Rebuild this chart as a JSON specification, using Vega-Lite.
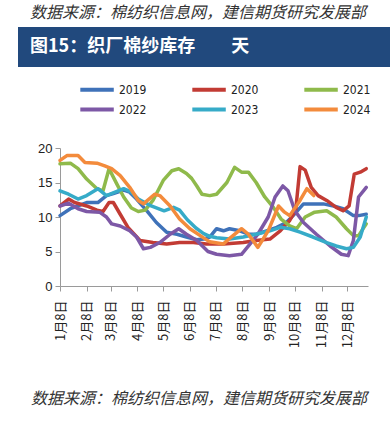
{
  "$schema": "https://vega.github.io/schema/vega-lite/v6.json",
  "background": "white",
  "padding": {"left": 18, "top": 5, "right": 0, "bottom": 6},
  "title": {"text": "数据来源：棉纺织信息网，建信期货研究发展部", "anchor": "start", "dx": 12, "fontSize": 16, "fontStyle": "italic", "fontWeight": "normal", "font": "Noto Sans CJK SC", "color": "#333333", "offset": 6},
  "spacing": 16,
  "resolve": {"legend": {"color": "independent"}},
  "config": {"view": {"stroke": null}},
  "vconcat": [
    {
      "width": 372,
      "height": 40,
      "view": {"fill": "#21497d", "stroke": null},
      "data": {"values": [{"t": "图15：织厂棉纱库存\u3000\u3000天"}]},
      "mark": {"type": "text", "align": "left", "baseline": "middle", "dx": 12, "color": "white", "fontSize": 18, "fontWeight": "bold", "font": "Noto Sans CJK SC"},
      "encoding": {
        "text": {"field": "t"},
        "x": {"datum": 0, "type": "quantitative", "scale": {"domain": [0, 1]}, "axis": null}
      }
    },
    {
      "spacing": 0,
      "resolve": {"legend": {"color": "independent"}},
      "hconcat": [
        {"width": 1, "height": 1, "data": {"values": []}, "mark": "point"},
        {
          "width": 308,
          "height": 138,
          "title": {"text": "数据来源：棉纺织信息网，建信期货研究发展部", "orient": "bottom", "anchor": "start", "frame": "bounds", "dx": 12, "offset": 43, "fontSize": 16, "fontStyle": "italic", "fontWeight": "normal", "font": "Noto Sans CJK SC", "color": "#333333"},
          "data": {"values": [
            {"d":"2019-01-08","y":"2019","v":10.2},{"d":"2019-01-20","y":"2019","v":11.2},{"d":"2019-01-29","y":"2019","v":11.6},{"d":"2019-02-08","y":"2019","v":12.1},{"d":"2019-02-21","y":"2019","v":12.1},{"d":"2019-03-03","y":"2019","v":13.1},{"d":"2019-03-11","y":"2019","v":13.4},{"d":"2019-03-23","y":"2019","v":13.9},{"d":"2019-03-30","y":"2019","v":13.6},{"d":"2019-04-07","y":"2019","v":12.6},{"d":"2019-04-19","y":"2019","v":10.9},{"d":"2019-04-30","y":"2019","v":9.2},{"d":"2019-05-12","y":"2019","v":7.8},{"d":"2019-05-24","y":"2019","v":7.5},{"d":"2019-06-04","y":"2019","v":7.1},{"d":"2019-06-16","y":"2019","v":6.7},{"d":"2019-06-24","y":"2019","v":6.8},{"d":"2019-07-01","y":"2019","v":7.1},{"d":"2019-07-09","y":"2019","v":8.3},{"d":"2019-07-17","y":"2019","v":8.0},{"d":"2019-07-24","y":"2019","v":8.3},{"d":"2019-08-05","y":"2019","v":8.0},{"d":"2019-08-15","y":"2019","v":7.5},{"d":"2019-08-24","y":"2019","v":7.5},{"d":"2019-09-05","y":"2019","v":8.0},{"d":"2019-09-17","y":"2019","v":8.5},{"d":"2019-09-28","y":"2019","v":9.2},{"d":"2019-10-06","y":"2019","v":10.2},{"d":"2019-10-18","y":"2019","v":11.9},{"d":"2019-10-29","y":"2019","v":11.9},{"d":"2019-11-10","y":"2019","v":11.9},{"d":"2019-11-22","y":"2019","v":11.6},{"d":"2019-12-03","y":"2019","v":11.2},{"d":"2019-12-15","y":"2019","v":10.2},{"d":"2019-12-21","y":"2019","v":10.2},{"d":"2019-12-30","y":"2019","v":10.4},
            {"d":"2019-01-08","y":"2020","v":11.6},{"d":"2019-01-18","y":"2020","v":12.6},{"d":"2019-01-25","y":"2020","v":12.1},{"d":"2019-02-08","y":"2020","v":11.6},{"d":"2019-02-20","y":"2020","v":11.0},{"d":"2019-02-27","y":"2020","v":10.8},{"d":"2019-03-06","y":"2020","v":12.1},{"d":"2019-03-11","y":"2020","v":12.1},{"d":"2019-03-19","y":"2020","v":10.4},{"d":"2019-03-28","y":"2020","v":8.5},{"d":"2019-04-11","y":"2020","v":6.6},{"d":"2019-04-26","y":"2020","v":6.3},{"d":"2019-05-12","y":"2020","v":6.1},{"d":"2019-05-27","y":"2020","v":6.3},{"d":"2019-06-12","y":"2020","v":6.3},{"d":"2019-06-27","y":"2020","v":6.1},{"d":"2019-07-17","y":"2020","v":6.1},{"d":"2019-08-09","y":"2020","v":6.3},{"d":"2019-08-24","y":"2020","v":6.6},{"d":"2019-09-09","y":"2020","v":6.8},{"d":"2019-09-21","y":"2020","v":8.0},{"d":"2019-10-02","y":"2020","v":9.5},{"d":"2019-10-09","y":"2020","v":11.0},{"d":"2019-10-14","y":"2020","v":17.3},{"d":"2019-10-20","y":"2020","v":16.8},{"d":"2019-10-27","y":"2020","v":14.3},{"d":"2019-11-04","y":"2020","v":13.1},{"d":"2019-11-14","y":"2020","v":12.4},{"d":"2019-11-25","y":"2020","v":11.4},{"d":"2019-12-03","y":"2020","v":10.9},{"d":"2019-12-10","y":"2020","v":11.6},{"d":"2019-12-16","y":"2020","v":16.2},{"d":"2019-12-23","y":"2020","v":16.5},{"d":"2019-12-30","y":"2020","v":17.0},
            {"d":"2019-01-08","y":"2021","v":17.7},{"d":"2019-01-20","y":"2021","v":17.8},{"d":"2019-01-29","y":"2021","v":17.0},{"d":"2019-02-08","y":"2021","v":15.5},{"d":"2019-02-20","y":"2021","v":14.1},{"d":"2019-02-27","y":"2021","v":13.8},{"d":"2019-03-06","y":"2021","v":17.0},{"d":"2019-03-15","y":"2021","v":14.8},{"d":"2019-03-23","y":"2021","v":12.9},{"d":"2019-04-01","y":"2021","v":11.3},{"d":"2019-04-09","y":"2021","v":10.8},{"d":"2019-04-17","y":"2021","v":11.0},{"d":"2019-04-26","y":"2021","v":12.4},{"d":"2019-05-08","y":"2021","v":15.3},{"d":"2019-05-18","y":"2021","v":16.7},{"d":"2019-05-26","y":"2021","v":17.0},{"d":"2019-06-04","y":"2021","v":16.3},{"d":"2019-06-10","y":"2021","v":15.6},{"d":"2019-06-16","y":"2021","v":14.5},{"d":"2019-06-22","y":"2021","v":13.3},{"d":"2019-07-01","y":"2021","v":13.1},{"d":"2019-07-09","y":"2021","v":13.3},{"d":"2019-07-21","y":"2021","v":15.0},{"d":"2019-07-30","y":"2021","v":17.2},{"d":"2019-08-07","y":"2021","v":16.5},{"d":"2019-08-15","y":"2021","v":16.5},{"d":"2019-08-24","y":"2021","v":15.0},{"d":"2019-09-03","y":"2021","v":12.9},{"d":"2019-09-13","y":"2021","v":11.4},{"d":"2019-09-22","y":"2021","v":9.7},{"d":"2019-10-02","y":"2021","v":8.7},{"d":"2019-10-10","y":"2021","v":8.3},{"d":"2019-10-20","y":"2021","v":10.0},{"d":"2019-10-31","y":"2021","v":10.7},{"d":"2019-11-14","y":"2021","v":10.9},{"d":"2019-11-25","y":"2021","v":10.0},{"d":"2019-12-07","y":"2021","v":8.3},{"d":"2019-12-15","y":"2021","v":7.3},{"d":"2019-12-21","y":"2021","v":7.3},{"d":"2019-12-30","y":"2021","v":9.0},
            {"d":"2019-01-08","y":"2022","v":11.6},{"d":"2019-01-18","y":"2022","v":12.0},{"d":"2019-01-29","y":"2022","v":11.2},{"d":"2019-02-08","y":"2022","v":10.8},{"d":"2019-02-23","y":"2022","v":10.7},{"d":"2019-03-03","y":"2022","v":10.0},{"d":"2019-03-09","y":"2022","v":9.0},{"d":"2019-03-19","y":"2022","v":8.7},{"d":"2019-03-30","y":"2022","v":8.0},{"d":"2019-04-07","y":"2022","v":7.1},{"d":"2019-04-15","y":"2022","v":5.4},{"d":"2019-04-23","y":"2022","v":5.6},{"d":"2019-05-04","y":"2022","v":6.3},{"d":"2019-05-16","y":"2022","v":7.5},{"d":"2019-05-26","y":"2022","v":8.3},{"d":"2019-06-04","y":"2022","v":7.5},{"d":"2019-06-16","y":"2022","v":6.6},{"d":"2019-06-29","y":"2022","v":5.0},{"d":"2019-07-09","y":"2022","v":4.6},{"d":"2019-07-24","y":"2022","v":4.4},{"d":"2019-08-07","y":"2022","v":4.6},{"d":"2019-08-17","y":"2022","v":6.1},{"d":"2019-08-26","y":"2022","v":7.5},{"d":"2019-09-07","y":"2022","v":10.0},{"d":"2019-09-15","y":"2022","v":12.9},{"d":"2019-09-24","y":"2022","v":14.5},{"d":"2019-09-30","y":"2022","v":13.8},{"d":"2019-10-08","y":"2022","v":10.9},{"d":"2019-10-18","y":"2022","v":9.2},{"d":"2019-11-02","y":"2022","v":7.5},{"d":"2019-11-18","y":"2022","v":5.8},{"d":"2019-12-01","y":"2022","v":4.6},{"d":"2019-12-09","y":"2022","v":4.4},{"d":"2019-12-15","y":"2022","v":6.6},{"d":"2019-12-21","y":"2022","v":12.9},{"d":"2019-12-30","y":"2022","v":14.3},
            {"d":"2019-01-08","y":"2023","v":13.8},{"d":"2019-01-18","y":"2023","v":13.3},{"d":"2019-01-29","y":"2023","v":12.6},{"d":"2019-02-08","y":"2023","v":13.1},{"d":"2019-02-21","y":"2023","v":14.1},{"d":"2019-03-03","y":"2023","v":13.1},{"d":"2019-03-13","y":"2023","v":13.6},{"d":"2019-03-23","y":"2023","v":14.1},{"d":"2019-04-01","y":"2023","v":13.6},{"d":"2019-04-09","y":"2023","v":12.6},{"d":"2019-04-24","y":"2023","v":11.6},{"d":"2019-05-09","y":"2023","v":10.9},{"d":"2019-05-20","y":"2023","v":11.4},{"d":"2019-05-27","y":"2023","v":11.0},{"d":"2019-06-05","y":"2023","v":9.6},{"d":"2019-06-15","y":"2023","v":8.4},{"d":"2019-06-24","y":"2023","v":7.6},{"d":"2019-07-01","y":"2023","v":7.2},{"d":"2019-07-09","y":"2023","v":7.0},{"d":"2019-07-24","y":"2023","v":6.8},{"d":"2019-08-09","y":"2023","v":7.1},{"d":"2019-08-24","y":"2023","v":7.5},{"d":"2019-09-09","y":"2023","v":8.0},{"d":"2019-09-21","y":"2023","v":8.5},{"d":"2019-10-02","y":"2023","v":8.3},{"d":"2019-10-14","y":"2023","v":7.8},{"d":"2019-10-29","y":"2023","v":7.1},{"d":"2019-11-14","y":"2023","v":6.3},{"d":"2019-11-25","y":"2023","v":5.8},{"d":"2019-12-07","y":"2023","v":5.4},{"d":"2019-12-15","y":"2023","v":5.6},{"d":"2019-12-23","y":"2023","v":7.1},{"d":"2019-12-30","y":"2023","v":10.0},
            {"d":"2019-01-08","y":"2024","v":18.2},{"d":"2019-01-16","y":"2024","v":18.9},{"d":"2019-01-29","y":"2024","v":18.9},{"d":"2019-02-06","y":"2024","v":17.9},{"d":"2019-02-20","y":"2024","v":17.8},{"d":"2019-03-01","y":"2024","v":17.4},{"d":"2019-03-09","y":"2024","v":17.0},{"d":"2019-03-19","y":"2024","v":16.0},{"d":"2019-03-30","y":"2024","v":14.3},{"d":"2019-04-09","y":"2024","v":12.4},{"d":"2019-04-15","y":"2024","v":11.9},{"d":"2019-04-28","y":"2024","v":13.3},{"d":"2019-05-04","y":"2024","v":13.1},{"d":"2019-05-16","y":"2024","v":11.6},{"d":"2019-05-27","y":"2024","v":9.7},{"d":"2019-06-08","y":"2024","v":8.3},{"d":"2019-06-20","y":"2024","v":7.3},{"d":"2019-07-01","y":"2024","v":6.4},{"d":"2019-07-17","y":"2024","v":6.1},{"d":"2019-07-26","y":"2024","v":7.1},{"d":"2019-08-07","y":"2024","v":8.3},{"d":"2019-08-15","y":"2024","v":7.5},{"d":"2019-08-26","y":"2024","v":5.6},{"d":"2019-09-07","y":"2024","v":8.0},{"d":"2019-09-19","y":"2024","v":11.6},{"d":"2019-09-26","y":"2024","v":10.7},{"d":"2019-10-02","y":"2024","v":10.2},{"d":"2019-10-14","y":"2024","v":12.4},{"d":"2019-10-22","y":"2024","v":14.1},{"d":"2019-10-30","y":"2024","v":13.1}
          ]},
          "mark": {"type": "line", "strokeWidth": 3.5, "strokeJoin": "round", "strokeCap": "round"},
          "encoding": {
            "x": {
              "field": "d", "type": "temporal",
              "scale": {"type": "utc", "domain": [{"year": 2019, "month": 1, "date": 8, "utc": true}, {"year": 2020, "month": 1, "date": 1, "utc": true}]},
              "axis": {
                "title": null, "grid": false,
                "values": [
                  {"year": 2019, "month": 1, "date": 8, "utc": true},{"year": 2019, "month": 2, "date": 8, "utc": true},{"year": 2019, "month": 3, "date": 8, "utc": true},{"year": 2019, "month": 4, "date": 8, "utc": true},{"year": 2019, "month": 5, "date": 8, "utc": true},{"year": 2019, "month": 6, "date": 8, "utc": true},{"year": 2019, "month": 7, "date": 8, "utc": true},{"year": 2019, "month": 8, "date": 8, "utc": true},{"year": 2019, "month": 9, "date": 8, "utc": true},{"year": 2019, "month": 10, "date": 8, "utc": true},{"year": 2019, "month": 11, "date": 8, "utc": true},{"year": 2019, "month": 12, "date": 8, "utc": true}
                ],
                "format": "%-m月%-d日", "labelAngle": 270, "labelFontSize": 13, "labelFont": "Noto Sans CJK SC", "labelColor": "#222222",
                "domainColor": "#9a9a9a", "tickColor": "#9a9a9a", "tickSize": 5, "labelPadding": 9,
                "labelOverlap": false, "labelBound": false, "labelFlush": false
              }
            },
            "y": {
              "field": "v", "type": "quantitative",
              "scale": {"domain": [0, 20]},
              "axis": {"title": null, "grid": false, "values": [0, 5, 10, 15, 20], "labelFontSize": 13, "labelFont": "Liberation Sans", "labelColor": "#222222", "domainColor": "#9a9a9a", "tickColor": "#9a9a9a", "tickSize": 5, "labelPadding": 3, "minExtent": 41}
            },
            "color": {
              "field": "y", "type": "nominal",
              "scale": {"domain": ["2019", "2020", "2021", "2022", "2023", "2024"], "range": ["#3f72b9", "#c23b34", "#8fba4b", "#7d58a6", "#36abc8", "#f38b3c"]},
              "legend": {"title": null, "orient": "none", "legendX": 18, "legendY": -65, "direction": "horizontal", "columns": 3, "symbolType": "M-1,0H7", "symbolStrokeWidth": 4, "symbolSize": 70, "labelFontSize": 12, "labelFont": "DejaVu Sans Condensed, Liberation Sans Narrow, Liberation Sans", "labelColor": "#222222", "columnPadding": 37, "rowPadding": 3, "labelOffset": 28, "gridAlign": "all"}
            }
          }
        }
      ]
    }
  ]
}
